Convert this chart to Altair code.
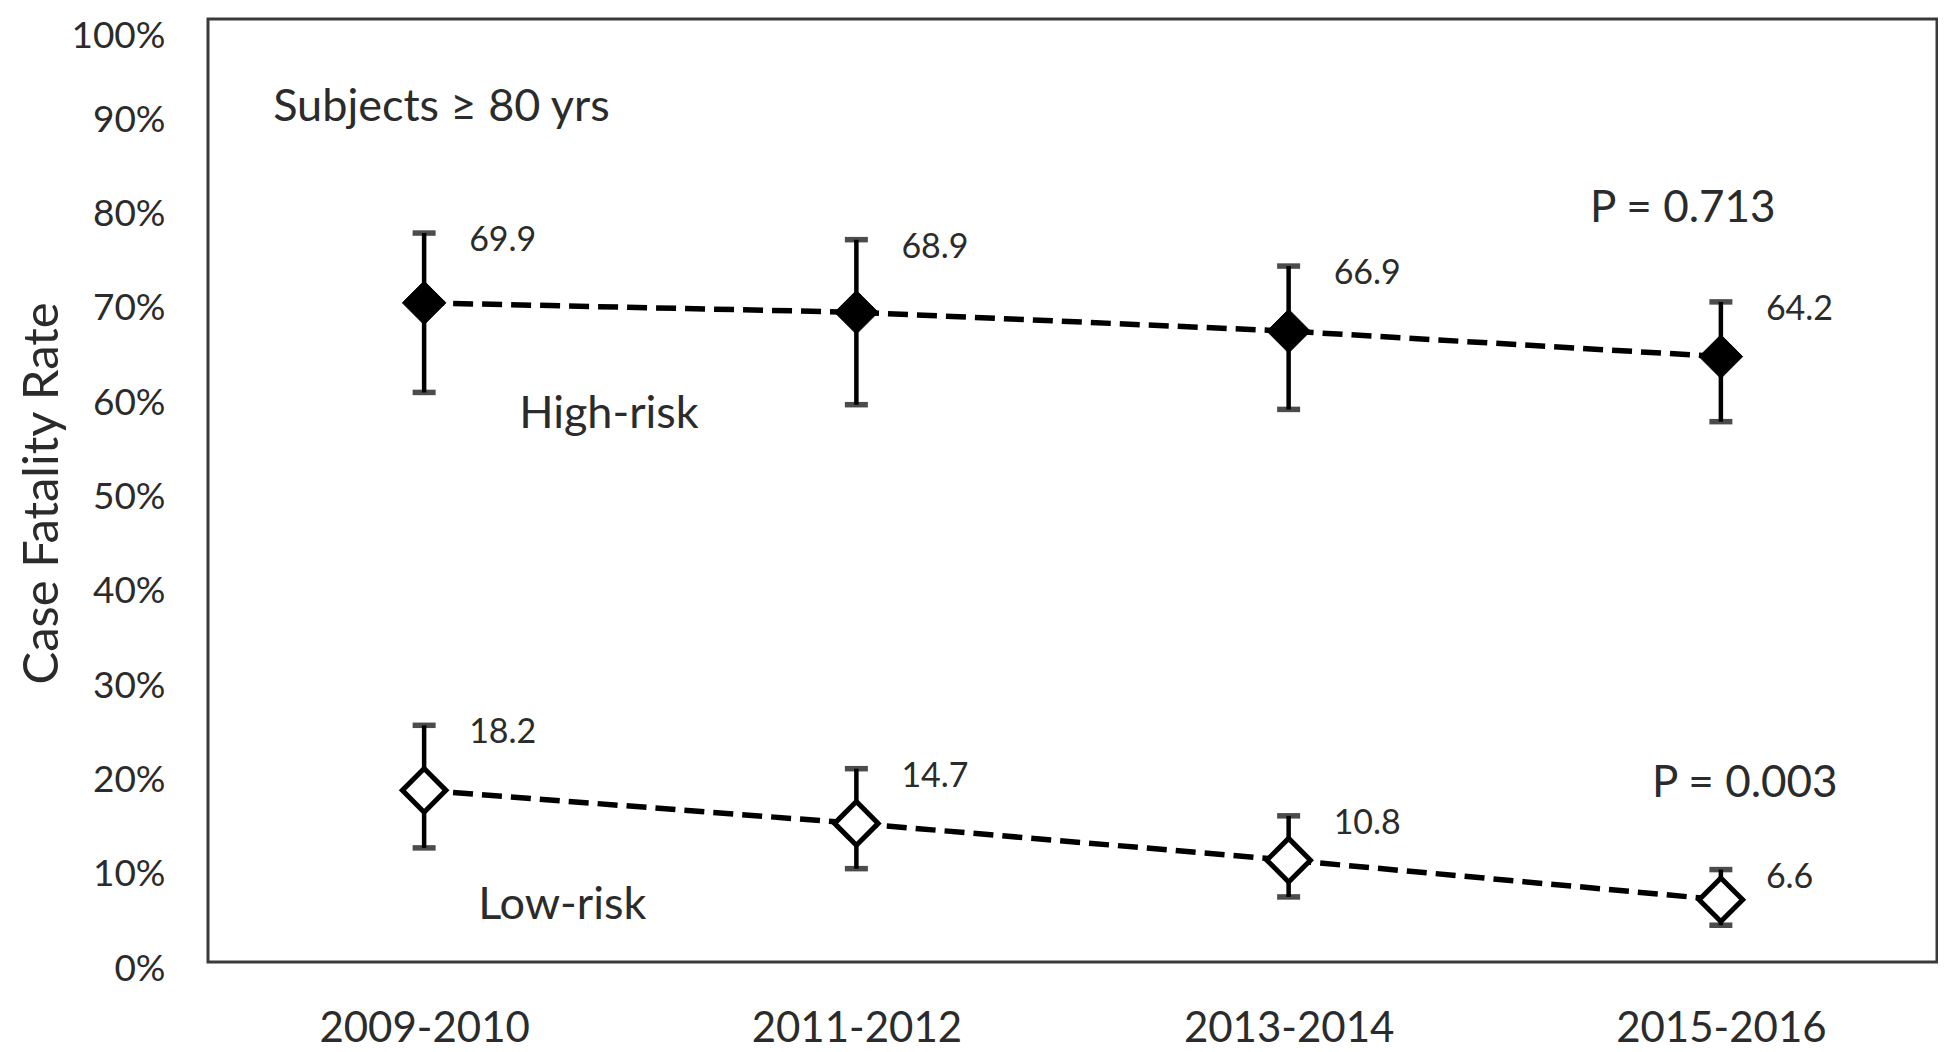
import altair as alt
import pandas as pd

# ---- data ----
periods = ["2009-2010", "2011-2012", "2013-2014", "2015-2016"]
high_rate = [69.9, 68.9, 66.9, 64.2]
high_upper = [77.3, 76.6, 73.8, 70.0]
high_lower = [60.4, 59.1, 58.6, 57.3]
low_rate = [18.2, 14.7, 10.8, 6.6]
low_upper = [25.1, 20.5, 15.5, 9.8]
low_lower = [12.1, 9.9, 6.9, 3.9]
y_ticks = [0, 10, 20, 30, 40, 50, 60, 70, 80, 90, 100]

rows = []
for i, p in enumerate(periods):
    rows.append(dict(period=p, series="High-risk", rate=high_rate[i],
                     upper=high_upper[i], lower=high_lower[i],
                     label=f"{high_rate[i]:.1f}"))
for i, p in enumerate(periods):
    rows.append(dict(period=p, series="Low-risk", rate=low_rate[i],
                     upper=low_upper[i], lower=low_lower[i],
                     label=f"{low_rate[i]:.1f}"))
df = pd.DataFrame(rows)

FONT = "Lato"
TXT = "#2b2b2b"

x_scale = alt.Scale(type="point", domain=periods, padding=0.5)
y_scale = alt.Scale(domain=[0, 100], nice=False, zero=True)

x_axis = alt.Axis(title=None, labelFont=FONT, labelFontSize=42, labelColor=TXT,
                  labelPadding=46, ticks=False, domain=False, labelAngle=0,
                  grid=False, labelLimit=0)
y_axis = alt.Axis(values=y_ticks, labelExpr="datum.value + '%'",
                  title="Case Fatality Rate", grid=False, ticks=False, domain=False,
                  labelPadding=43, labelFont=FONT, labelFontSize=37, labelColor=TXT,
                  labelOffset={"condition": {"test": "datum.value == 100", "value": 17},
                               "value": 7},
                  labelLimit=0,
                  titleFont=FONT, titleFontSize=49, titleFontWeight="normal",
                  titleColor=TXT, titleAngle=-90, titleX=-151, titleY=474,
                  titleBaseline="alphabetic", titleAlign="center")

def X():
    return alt.X("period:N", scale=x_scale, sort=periods, axis=x_axis)

def Y(field):
    return alt.Y(f"{field}:Q", scale=y_scale, axis=y_axis)

base = alt.Chart(df)

lines = base.mark_line(color="black", strokeWidth=5.5, strokeDash=[20, 9]).encode(
    x=X(), y=Y("rate"), detail="series:N")

bars = base.mark_rule(color="black", strokeWidth=4.5).encode(
    x=X(), y=Y("lower"), y2="upper:Q")

cap_hi = base.mark_tick(color="black", orient="horizontal", size=23, thickness=5.5).encode(
    x=X(), y=Y("upper"))
cap_lo = base.mark_tick(color="black", orient="horizontal", size=23, thickness=5.5).encode(
    x=X(), y=Y("lower"))

pts_high = base.transform_filter(alt.datum.series == "High-risk").mark_point(
    shape="diamond", size=1900, filled=True, fill="black", stroke="black",
    strokeWidth=1, opacity=1).encode(x=X(), y=Y("rate"))

pts_low = base.transform_filter(alt.datum.series == "Low-risk").mark_point(
    shape="diamond", size=1900, filled=False, fill="white", stroke="black",
    strokeWidth=5, opacity=1, fillOpacity=1).encode(x=X(), y=Y("rate"))

labels = base.mark_text(font=FONT, fontSize=34, color=TXT, align="left",
                        baseline="middle", dx=45, dy=8).encode(
    x=X(), y=Y("upper"), text="label:N")


def note(text, period, value, dx, size=45):
    return alt.Chart(pd.DataFrame({"t": [text]})).mark_text(
        font=FONT, fontSize=size, color=TXT, align="left", baseline="middle", dx=dx
    ).encode(x=alt.XDatum(period, scale=x_scale),
             y=alt.YDatum(value, scale=y_scale),
             text="t:N")


n1 = note("Subjects \u2265 80 yrs", "2009-2010", 90.7, -151)
n2 = note("High-risk", "2009-2010", 58.1, 95)
n3 = note("Low-risk", "2009-2010", 6.0, 54)
n4 = note("P = 0.713", "2015-2016", 79.9, -131, 44)
n5 = note("P = 0.003", "2015-2016", 18.9, -69, 44)

chart = alt.layer(lines, bars, cap_hi, cap_lo, pts_high, pts_low, labels,
                  n1, n2, n3, n4, n5).properties(
    width=1729, height=943,
    autosize=alt.AutoSizeParams(type="none"),
    padding={"left": 200, "top": 11, "right": 1, "bottom": 90},
    background="white",
).configure_view(stroke="#3a3a3a", strokeWidth=3)

chart.save("out.html", embed_options={"renderer": "svg", "actions": False})
